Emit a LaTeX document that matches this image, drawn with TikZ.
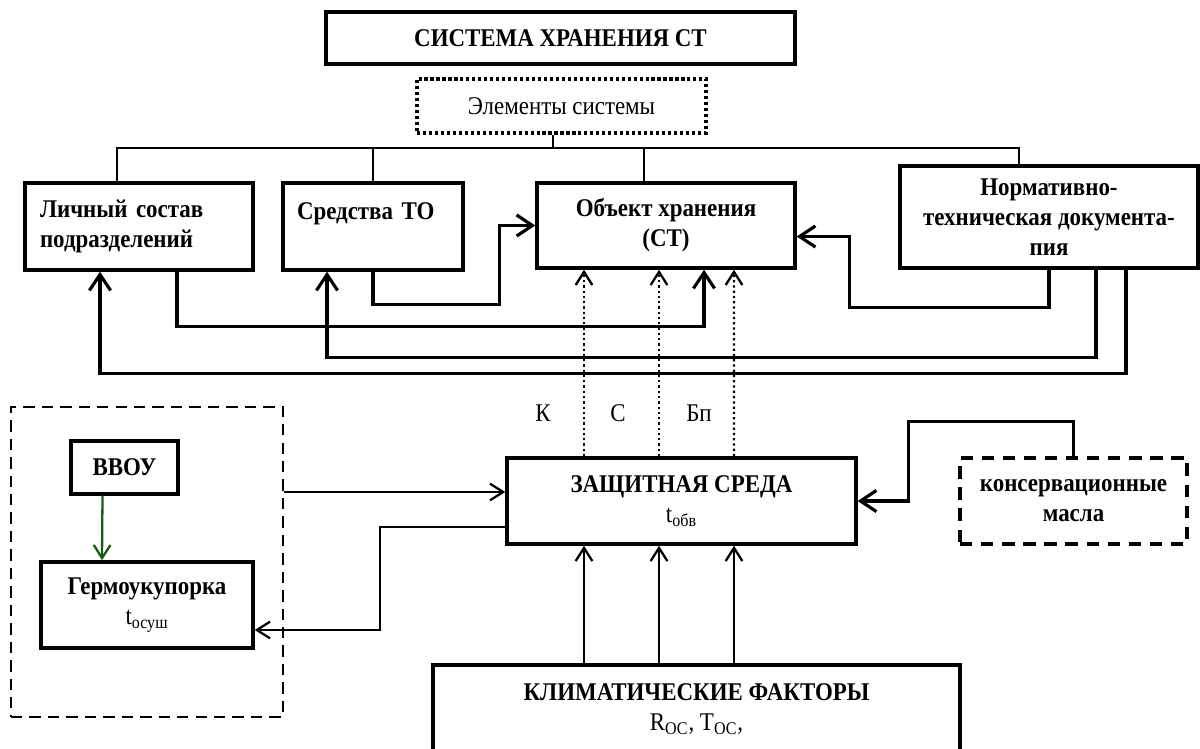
\documentclass[tikz,border=0pt]{standalone}
\usepackage{fontspec}
\setmainfont{Liberation Serif}[FakeStretch=0.9]
\usetikzlibrary{arrows.meta, positioning, calc}
\definecolor{arrowgreen}{RGB}{25,90,25}

\begin{document}
\begin{tikzpicture}[x=0.02cm, y=-0.02cm,
    block/.style={draw, line width=2pt, align=center, inner sep=0pt, font=\fontsize{14.5pt}{17pt}\selectfont\bfseries},
    plain/.style={font=\fontsize{14.5pt}{17pt}\selectfont},
    dotbox/.style={plain, draw, dash pattern=on 1.8pt off 1.6pt, line width=1.8pt},
    dashblock/.style={block, dash pattern=on 7pt off 5pt, line width=1.9pt},
    link/.style={line width=0.6pt},
    flow/.style={-{Straight Barb[length=9pt, width=12pt]}, line width=1.8pt},
    arr/.style={-{Straight Barb[length=7.5pt, width=9.5pt]}, line width=1.3pt},
    dotflow/.style={arr, dash pattern=on 1.3pt off 1.7pt}]
\path[use as bounding box, clip] (0,0) rectangle (1200,749);
\node[block, minimum width=9.38cm, minimum height=1.04cm] (system) at (560.5,38) {СИСТЕМА ХРАНЕНИЯ СТ};
\node[dotbox, minimum width=5.78cm, minimum height=1.08cm] (elements) at (561.5,106) {Элементы системы};
\node[block, align=left, text width=3.96cm, minimum width=4.56cm, minimum height=1.74cm] (staff) at (139,226.5) {Личный состав\\подразделений};
\node[block, align=left, text width=3.04cm, minimum width=3.6cm, minimum height=1.74cm] (tools) at (373,226.5) {Средства ТО\\\mbox{}};
\node[block, minimum width=5.16cm, minimum height=1.7cm] (object) at (666,225.5) {Объект хранения\\(СТ)};
\node[block, minimum width=5.96cm, minimum height=2.04cm] (docs) at (1049,217) {Нормативно-\\техническая документа-\\пия};
\node[plain] (sigk) at (543,413) {К};
\node[plain] (sigc) at (618,413) {С};
\node[plain] (sigbp) at (699,413) {Бп};
\node[block, minimum width=6.98cm, minimum height=1.72cm] (medium) at (681.5,501) {ЗАЩИТНАЯ СРЕДА\\{\mdseries t\textsubscript{обв}}};
\node[dashblock, minimum width=4.54cm, minimum height=1.72cm] (oils) at (1073.5,501) {консервационные\\масла};
\node[block, minimum width=10.54cm, minimum height=1.76cm] (climate) at (696.5,709) {КЛИМАТИЧЕСКИЕ ФАКТОРЫ\\{\mdseries R\textsubscript{ОС}, T\textsubscript{ОС},}};
\node[draw, dash pattern=on 6.5pt off 4pt, line width=1.6pt, minimum width=5.44cm, minimum height=6.2cm] (outer) at (147,562) {};
\node[block, line width=1.8pt, minimum width=2.14cm, minimum height=1.06cm] (vvou) at (124.5,467.5) {ВВОУ};
\node[block, minimum width=4.24cm, minimum height=1.72cm] (germ) at (147,605) {Гермоукупорка\\{\mdseries t\textsubscript{осуш}}};

\coordinate (bus) at (553,148);
\draw[link] (elements.south -| bus) -- (bus);
\draw[link] ($(staff.north)+(-22,0)$) |- ($(docs.north |- bus)+(-30,0)$) -- ($(docs.north)+(-30,0)$);
\draw[link] (tools.north) -- (tools.north |- bus);
\draw[link] ($(object.north)+(-22,0)$) -- ($(object.north |- bus)+(-22,0)$);

\draw[flow] (tools.south) -- ++(0,33) -| ($(object.west)+(-36,0)$) -- (object.west);
\draw[flow] ($(staff.south)+(38,0)$) |- ($(object.south)+(38,57)$) -- ($(object.south)+(38,0)$);
\draw[flow] (docs.south) -- ++(0,38) -| ($(object.east)+(53,11)$) -- ($(object.east)+(0,11)$);
\draw[flow] ($(docs.south)+(47,0)$) |- ($(tools.south)+(-46,86)$) -- ($(tools.south)+(-46,0)$);
\draw[flow] ($(docs.south)+(77,0)$) |- ($(staff.south)+(-39,102)$) -- ($(staff.south)+(-39,0)$);

\foreach \dx in {-97.5,-22.5,52.5}{
  \draw[dotflow] ($(medium.north)+(\dx,0)$) -- ($(object.south)+(\dx+15.5,0)$);
  \draw[arr] ($(climate.north)+(\dx-15,0)$) -- ($(medium.south)+(\dx,0)$);
}
\draw[flow] (oils.north) -- ++(0,-35) -| ($(medium.east)+(51,0)$) -- (medium.east);
\draw[arr] ($(outer.east |- medium.west)+(0,-9)$) -- ($(medium.west)+(0,-9)$);
\draw[arr] ($(medium.west)+(0,26)$) -| ($(germ.east)+(125,25)$) -- ($(germ.east)+(0,25)$);
\draw[arr, arrowgreen] ($(vvou.south)+(-22,0)$) -- ($(germ.north)+(-45,0)$);
\end{tikzpicture}
\end{document}
